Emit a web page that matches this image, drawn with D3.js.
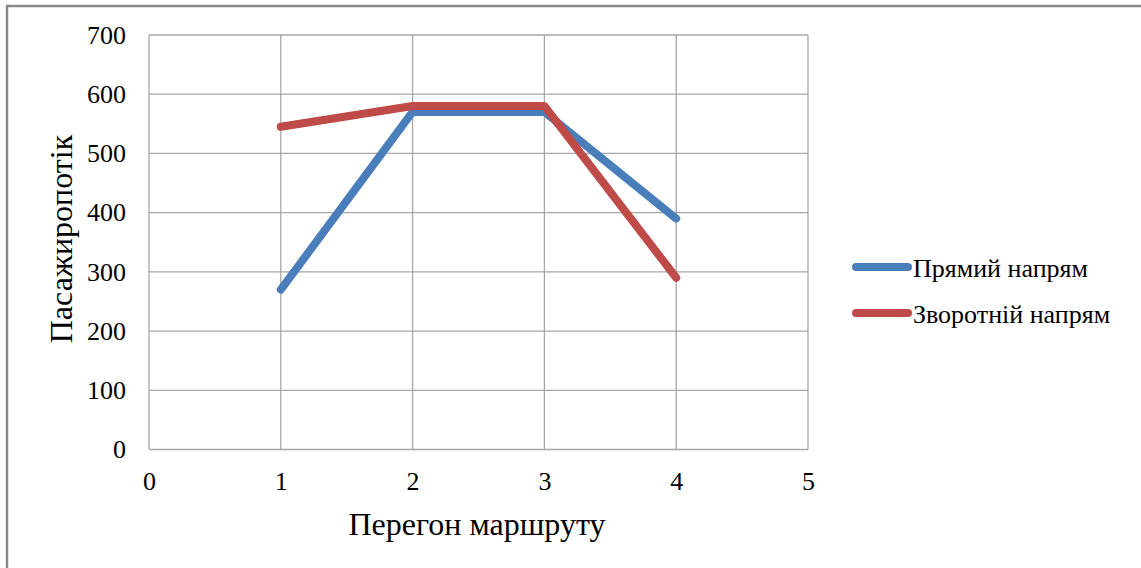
<!DOCTYPE html>
<html><head><meta charset="utf-8">
<script src="https://cdn.jsdelivr.net/npm/d3@7"></script>
<style>body{margin:0;background:#fff}svg{display:block}text{font-family:"Liberation Serif","Times New Roman",serif;fill:#000}</style>
</head><body><svg id="c" width="1141" height="568"></svg>
<script>
const xTicks = [0, 1, 2, 3, 4, 5];
const yTicks = [0, 100, 200, 300, 400, 500, 600, 700];
const segments = [1, 2, 3, 4];
const seriesNames = ["Прямий напрям", "Зворотній напрям"];
const forwardValues = [270, 570, 570, 390];
const reverseValues = [545, 580, 580, 290];
const colors = ["#4a7ebb", "#be4b48"];

const svg = d3.select("#c");
svg.append("rect").attr("x", 7).attr("y", 6).attr("width", 1145).attr("height", 580)
  .attr("fill", "#fff").attr("stroke", "#888").attr("stroke-width", 2.5);

const L = 149, R = 808, T = 35, B = 449.5;
const x = d3.scaleLinear().domain([0, 5]).range([L, R]);
const y = d3.scaleLinear().domain([0, 700]).range([B, T]);

const g = svg.append("g");
g.selectAll(".gy").data(yTicks).join("line")
  .attr("x1", L).attr("x2", R).attr("y1", d => y(d)).attr("y2", d => y(d))
  .attr("stroke", "#a6a6a6").attr("stroke-width", 1.3);
g.selectAll(".gx").data(xTicks).join("line")
  .attr("y1", T).attr("y2", B).attr("x1", d => x(d)).attr("x2", d => x(d))
  .attr("stroke", "#a6a6a6").attr("stroke-width", 1.3);

const fmt = d3.format("d");
const yAxis = d3.axisLeft(y).tickValues(yTicks).tickFormat(fmt).tickSize(0).tickPadding(23);
svg.append("g").attr("transform", `translate(${L},0)`).call(yAxis)
  .attr("font-family", null).attr("font-size", null)
  .call(a => a.select(".domain").remove())
  .selectAll("text").style("font-size", "26px").attr("fill", "#000");
const xAxis = d3.axisBottom(x).tickValues(xTicks).tickFormat(fmt).tickSize(0);
svg.append("g").attr("transform", `translate(0,${B})`).call(xAxis)
  .attr("font-family", null).attr("font-size", null)
  .call(a => a.select(".domain").remove())
  .selectAll("text").style("font-size", "26px").attr("fill", "#000")
  .attr("dy", null).attr("y", 40);

svg.append("text").attr("x", 477).attr("y", 535).attr("text-anchor", "middle")
  .style("font-size", "32px").text("Перегон маршруту");
svg.append("text").attr("transform", "translate(72,239) rotate(-90)").attr("text-anchor", "middle")
  .style("font-size", "32px").text("Пасажиропотік");

const line = d3.line().x((d, i) => x(segments[i])).y(d => y(d));
[forwardValues, reverseValues].forEach((vals, k) => {
  svg.append("path").datum(vals).attr("d", line).attr("fill", "none")
    .attr("stroke", colors[k]).attr("stroke-width", 8)
    .attr("stroke-linecap", "round").attr("stroke-linejoin", "round");
});

const leg = svg.append("g");
seriesNames.forEach((n, k) => {
  const yy = 267 + k * 46;
  leg.append("line").attr("x1", 856).attr("x2", 908).attr("y1", yy).attr("y2", yy)
    .attr("stroke", colors[k]).attr("stroke-width", 8).attr("stroke-linecap", "round");
  leg.append("text").attr("x", 913).attr("y", yy + 10).style("font-size", "26px").text(n);
});
</script></body></html>
